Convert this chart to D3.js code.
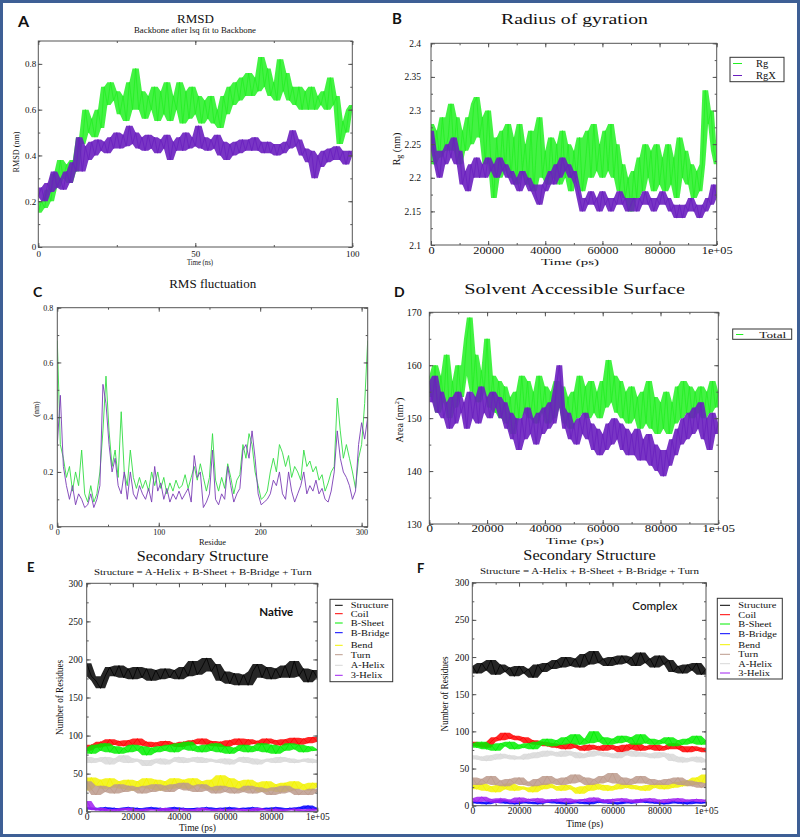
<!DOCTYPE html>
<html><head><meta charset="utf-8">
<script src="https://cdn.jsdelivr.net/npm/d3@7"></script>
<style>body{margin:0;background:#fff} svg{display:block}</style>
</head><body>
<script>
// ================= DATA =================
// Panel A – RMSD (ns)
const rmsdTime = d3.range(0, 101, 1);
const rmsdGreen = [0.15,0.20,0.17,0.25,0.20,0.32,0.26,0.38,0.30,0.36,
 0.28,0.38,0.33,0.48,0.45,0.60,0.50,0.56,0.48,0.60,
 0.52,0.70,0.62,0.72,0.64,0.68,0.58,0.66,0.55,0.72,
 0.60,0.78,0.60,0.68,0.56,0.66,0.60,0.70,0.55,0.68,
 0.58,0.72,0.55,0.66,0.60,0.72,0.54,0.68,0.56,0.70,
 0.58,0.66,0.54,0.64,0.56,0.66,0.54,0.60,0.52,0.66,
 0.58,0.70,0.62,0.72,0.64,0.74,0.66,0.76,0.66,0.74,
 0.68,0.83,0.70,0.78,0.66,0.72,0.64,0.82,0.68,0.76,
 0.64,0.70,0.62,0.70,0.60,0.68,0.60,0.70,0.60,0.66,
 0.62,0.68,0.60,0.74,0.62,0.66,0.45,0.55,0.50,0.60,0.62];
const rmsdPurple = [0.22,0.26,0.20,0.28,0.24,0.33,0.26,0.30,0.25,0.33,
 0.28,0.37,0.33,0.48,0.33,0.44,0.38,0.46,0.40,0.47,
 0.42,0.46,0.41,0.48,0.43,0.50,0.43,0.49,0.44,0.53,
 0.45,0.50,0.43,0.48,0.42,0.49,0.43,0.48,0.41,0.47,
 0.43,0.49,0.38,0.46,0.42,0.48,0.42,0.50,0.43,0.48,
 0.44,0.53,0.43,0.48,0.42,0.47,0.43,0.49,0.40,0.46,
 0.38,0.45,0.40,0.46,0.41,0.47,0.42,0.47,0.42,0.48,
 0.42,0.46,0.41,0.46,0.41,0.45,0.40,0.45,0.41,0.46,
 0.43,0.51,0.44,0.47,0.40,0.43,0.37,0.42,0.30,0.40,
 0.35,0.42,0.37,0.43,0.38,0.44,0.38,0.42,0.36,0.42,0.40];
const rmsdXTicks = [0, 50, 100];
const rmsdYTicks = [0, 0.2, 0.4, 0.6, 0.8];

// Panel B – Radius of gyration (ps)
const psTime = d3.range(0, 100001, 1000);
const rgGreen = [2.28,2.22,2.27,2.23,2.29,2.24,2.26,2.31,2.24,2.29,
 2.22,2.27,2.24,2.29,2.25,2.31,2.32,2.26,2.29,2.22,
 2.30,2.22,2.17,2.26,2.20,2.27,2.21,2.28,2.20,2.26,
 2.19,2.28,2.21,2.25,2.19,2.27,2.18,2.25,2.29,2.20,
 2.24,2.19,2.26,2.20,2.25,2.19,2.27,2.20,2.25,2.18,
 2.24,2.20,2.26,2.18,2.22,2.27,2.20,2.28,2.21,2.25,
 2.20,2.27,2.21,2.28,2.20,2.25,2.18,2.22,2.17,2.20,
 2.15,2.21,2.17,2.23,2.18,2.25,2.20,2.24,2.18,2.25,
 2.19,2.23,2.18,2.25,2.19,2.23,2.17,2.26,2.20,2.24,
 2.19,2.22,2.17,2.21,2.18,2.22,2.33,2.28,2.30,2.24,2.22];
const rgPurple = [2.27,2.24,2.22,2.20,2.24,2.22,2.25,2.23,2.26,2.22,
 2.24,2.19,2.21,2.18,2.22,2.20,2.23,2.20,2.22,2.20,
 2.23,2.21,2.22,2.20,2.23,2.21,2.22,2.20,2.21,2.19,
 2.20,2.18,2.21,2.19,2.20,2.18,2.19,2.17,2.16,2.19,
 2.18,2.20,2.21,2.19,2.22,2.20,2.23,2.21,2.22,2.20,
 2.21,2.19,2.17,2.15,2.17,2.16,2.18,2.16,2.17,2.15,
 2.18,2.16,2.17,2.15,2.17,2.16,2.18,2.16,2.17,2.15,
 2.16,2.17,2.15,2.17,2.16,2.18,2.16,2.17,2.15,2.17,
 2.16,2.18,2.16,2.17,2.15,2.16,2.14,2.16,2.14,2.16,
 2.15,2.17,2.15,2.16,2.14,2.16,2.15,2.17,2.16,2.19,2.17];
const rgYTicks = [2.1, 2.15, 2.2, 2.25, 2.3, 2.35, 2.4];
const psXTicks = [0, 20000, 40000, 60000, 80000, 100000];

// Panel C – RMS fluctuation (residue)
const residues = d3.range(0, 307, 3);
const rmsfGreen = [0.68,0.30,0.25,0.18,0.22,0.13,0.20,0.15,0.28,0.12,
 0.09,0.15,0.09,0.12,0.20,0.35,0.55,0.35,0.22,0.28,
 0.18,0.42,0.20,0.15,0.28,0.18,0.14,0.18,0.14,0.17,
 0.13,0.20,0.15,0.20,0.14,0.18,0.12,0.16,0.13,0.17,
 0.14,0.15,0.19,0.14,0.18,0.22,0.17,0.23,0.18,0.13,
 0.18,0.34,0.17,0.13,0.18,0.14,0.23,0.18,0.12,0.17,
 0.19,0.30,0.25,0.34,0.30,0.20,0.15,0.10,0.11,0.13,
 0.20,0.25,0.20,0.30,0.27,0.22,0.26,0.18,0.22,0.20,
 0.17,0.28,0.22,0.24,0.20,0.22,0.17,0.19,0.13,0.16,
 0.20,0.22,0.47,0.35,0.25,0.30,0.25,0.20,0.14,0.25,
 0.30,0.45,0.68];
const rmsfPurple = [0.30,0.48,0.22,0.15,0.10,0.15,0.08,0.12,0.10,0.07,
 0.08,0.12,0.07,0.10,0.15,0.52,0.45,0.30,0.20,0.25,
 0.15,0.12,0.20,0.10,0.20,0.12,0.10,0.15,0.12,0.10,
 0.14,0.09,0.22,0.13,0.16,0.10,0.14,0.09,0.12,0.10,
 0.13,0.10,0.12,0.14,0.09,0.26,0.18,0.20,0.07,0.09,
 0.12,0.28,0.10,0.08,0.12,0.10,0.22,0.15,0.09,0.12,
 0.14,0.28,0.30,0.25,0.35,0.25,0.12,0.08,0.09,0.10,
 0.12,0.17,0.15,0.20,0.12,0.10,0.20,0.13,0.09,0.12,
 0.15,0.20,0.12,0.15,0.13,0.17,0.12,0.14,0.10,0.09,
 0.13,0.20,0.35,0.25,0.20,0.18,0.15,0.10,0.13,0.30,
 0.38,0.32,0.40];
const rmsfXTicks = [0, 100, 200, 300];
const rmsfYTicks = [0, 0.2, 0.4, 0.6, 0.8];

// Panel D – Solvent accessible surface (ps)
const sasGreen = [158,154,160,151,158,153,162,150,157,152,
 160,154,158,165,169,155,162,153,159,155,
 165,152,158,151,157,150,156,149,154,147,
 155,150,158,151,157,150,155,149,158,151,
 156,149,155,150,157,152,156,149,154,148,
 155,150,158,151,156,150,157,151,155,150,
 157,152,161,153,158,151,157,150,155,149,
 156,150,154,148,155,149,157,148,154,147,
 153,148,155,147,153,149,156,150,157,151,
 156,150,155,151,156,150,155,151,157,152,155];
const sasPurple = [157,153,158,151,155,150,153,148,154,149,
 155,151,153,148,155,150,154,149,156,151,
 154,150,155,152,154,150,153,148,151,146,
 150,144,150,146,152,147,150,145,151,147,
 152,148,153,149,156,160,152,148,151,146,
 149,145,150,147,151,146,149,144,148,143,
 147,144,149,145,150,146,149,144,148,143,
 147,143,148,142,146,142,147,141,145,140,
 144,139,144,141,146,143,148,145,150,146,
 151,147,152,148,153,146,150,144,151,147,149];
const sasYTicks = [130, 140, 150, 160, 170];

// Panels E/F – Secondary structure (ps)
const ssTime = d3.range(0, 100001, 2000);
const ssNames = ["Structure","Coil","B-Sheet","B-Bridge","Bend","Turn","A-Helix","3-Helix"];
const ssColors = ["#000000","#ff0000","#00ee00","#0000ff","#f2f200","#bc9a8c","#d8d8d8","#a020f0"];
const nativeSS = [
 [195,178,172,162,178,190,178,192,176,188,174,190,176,188,172,186,174,188,176,186,174,190,178,198,180,190,202,184,194,172,184,168,182,166,180,166,184,194,176,190,174,188,176,192,176,198,178,188,170,186,176],
 [80,88,84,92,86,95,88,93,86,94,88,96,87,92,85,91,86,93,88,90,85,92,87,94,89,96,88,93,86,92,85,94,88,96,87,95,89,93,88,96,90,94,87,95,89,97,88,96,90,98,92],
 [84,76,88,80,90,78,86,76,84,78,88,80,86,74,84,78,86,80,88,78,90,82,92,80,86,78,88,80,90,78,86,76,84,80,88,78,86,80,90,78,88,76,86,80,90,82,88,78,86,80,82],
 [6,3,5,2,6,3,5,2,4,6,3,5,2,4,6,3,5,2,4,6,3,5,2,4,5,3,6,2,4,5,3,6,2,4,5,3,6,2,4,5,3,6,4,2,5,3,6,4,8,3,5],
 [28,45,34,42,30,44,32,40,30,42,28,40,32,44,30,42,28,40,30,44,32,42,30,44,34,40,30,42,28,48,32,44,30,40,28,42,30,38,26,40,28,36,26,38,28,40,30,36,28,38,32],
 [40,30,22,34,26,32,24,36,26,34,28,32,24,34,26,36,28,34,26,36,30,38,28,34,26,36,28,32,24,34,26,32,24,30,26,34,24,32,26,30,22,32,24,34,26,30,22,28,22,30,26],
 [72,64,70,66,72,62,70,66,74,64,70,66,68,60,68,64,70,62,68,66,72,64,70,66,72,64,70,66,68,64,70,62,68,66,72,64,70,62,68,66,70,64,72,66,70,64,68,66,70,64,68],
 [14,4,2,5,1,3,0,4,2,5,1,3,0,4,2,3,1,5,0,3,2,4,1,3,0,5,2,3,1,4,0,3,2,4,1,3,0,5,2,3,1,4,0,3,2,4,1,3,0,4,2]
];
const complexSS = [
 [188,178,192,182,196,176,190,180,186,174,188,178,184,172,190,180,192,184,196,186,200,188,198,186,204,190,208,192,198,188,200,190,202,192,200,188,206,192,198,186,202,190,196,180,188,178,190,182,192,176,184],
 [86,80,84,78,86,92,88,98,90,94,88,92,84,88,82,86,80,84,78,82,76,84,78,80,74,82,76,80,74,82,76,80,72,82,76,84,74,80,76,82,74,80,76,84,76,80,72,80,74,78,72],
 [84,78,86,76,82,74,84,80,86,76,82,78,84,76,86,82,90,80,88,82,92,84,96,82,90,84,100,86,92,82,90,84,94,86,92,82,96,84,90,82,88,84,92,80,88,82,90,84,94,82,88],
 [6,3,5,2,6,4,8,3,6,2,4,6,3,5,2,6,4,8,3,5,2,4,6,3,5,2,6,4,8,3,5,2,4,6,3,5,8,4,6,3,5,2,4,6,3,5,2,6,4,3,5],
 [28,22,30,20,26,18,28,22,30,20,26,22,24,18,28,22,30,24,26,20,28,22,24,16,26,20,30,22,28,20,26,22,30,24,28,22,26,20,28,24,30,22,28,24,32,26,34,28,38,30,42],
 [38,28,36,30,40,28,34,26,36,30,38,28,32,26,36,28,40,30,36,28,38,30,42,32,38,28,36,30,40,32,44,30,38,28,36,30,40,30,36,28,34,28,36,30,38,28,34,26,32,24,30],
 [68,62,66,60,68,62,70,64,68,62,66,62,70,64,72,66,74,68,72,66,74,68,72,64,70,66,74,68,72,66,70,64,72,68,74,66,72,66,70,64,72,66,70,60,66,58,64,60,66,58,62],
 [10,5,12,6,9,4,10,6,8,4,11,5,9,6,10,4,8,6,9,5,10,4,8,6,9,5,11,6,8,4,9,6,10,5,8,4,9,6,10,5,8,4,9,6,10,5,8,6,9,5,8]
];
const ssYTicks = [0, 50, 100, 150, 200, 250, 300];

// ================= DRAWING =================
const SERIF = "'Liberation Serif','DejaVu Serif',serif";
const SANS = "Lato,'Open Sans','Liberation Sans',sans-serif";
const GREEN = "#22f022", PURPLE = "#6a1fbf";

const svg = d3.select("body").append("svg").attr("width", 800).attr("height", 837);
svg.append("rect").attr("width", 800).attr("height", 837).attr("fill", "#fff");
svg.append("rect").attr("x", 1.5).attr("y", 1.5).attr("width", 797).attr("height", 834)
  .attr("fill", "none").attr("stroke", "#3e5f95").attr("stroke-width", 3);

function txt(str, x, y, o = {}) {
  const t = svg.append("text").attr("x", x).attr("y", y).text(str)
    .attr("font-family", o.ff || SERIF).attr("font-size", o.fs || 10)
    .attr("text-anchor", o.anchor || "middle").attr("fill", o.fill || "#111");
  if (o.fw) t.attr("font-weight", o.fw);
  if (o.len) t.attr("textLength", o.len).attr("lengthAdjust", "spacingAndGlyphs");
  if (o.rot) t.attr("transform", `rotate(-90,${x},${y})`);
  return t;
}

let clipN = 0;
function panel(c) {
  const g = svg.append("g");
  const x = d3.scaleLinear().domain(c.xd).range([c.l, c.r]);
  const y = d3.scaleLinear().domain(c.yd).range([c.b, c.t]);
  const id = "clip" + (clipN++);
  g.append("clipPath").attr("id", id).append("rect")
    .attr("x", c.l).attr("y", c.t).attr("width", c.r - c.l).attr("height", c.b - c.t);
  const pg = g.append("g").attr("clip-path", `url(#${id})`);
  c.series.forEach(s => {
    if (s.band) {
      // shaded trace envelope: local min/max of neighbouring samples
      const win = i => s.v.slice(Math.max(0, i - 1), i + 2);
      pg.append("path").datum(s.v).attr("fill", s.color).attr("fill-opacity", s.band)
        .attr("d", d3.area().x((d, i) => x(s.x[i]))
          .y0((d, i) => y(d3.min(win(i)))).y1((d, i) => y(d3.max(win(i)))));
    }
    pg.append("path").datum(s.v).attr("fill", "none").attr("stroke", s.line || s.color)
      .attr("stroke-width", s.w || 1).attr("stroke-linejoin", "round")
      .attr("d", d3.line().x((d, i) => x(s.x[i])).y(d => y(d)));
  });
  g.append("rect").attr("x", c.l).attr("y", c.t).attr("width", c.r - c.l).attr("height", c.b - c.t)
    .attr("fill", "none").attr("stroke", "#555").attr("stroke-width", 1);
  const ax = (gen, tr, vals, size, fmt, pad) => {
    const a = g.append("g").attr("transform", tr)
      .call(gen.tickValues(vals).tickSizeInner(-size).tickSizeOuter(0).tickPadding(pad || 3).tickFormat(fmt || (() => "")));
    a.select(".domain").remove();
    a.selectAll("line").attr("stroke", "#555");
    a.selectAll("text").attr("font-family", SERIF).attr("font-size", c.fs).attr("fill", "#111");
    return a;
  };
  const xm = d3.range(c.xd[0], c.xd[1] + 1e-9, c.xms), ym = d3.range(c.yd[0], c.yd[1] + 1e-9, c.yms);
  const bx = ax(d3.axisBottom(x), `translate(0,${c.b})`, c.xt, 4, c.xf || (d => d), c.xpad);
  ax(d3.axisBottom(x), `translate(0,${c.b})`, xm, 2);
  ax(d3.axisTop(x), `translate(0,${c.t})`, c.xt, 4);
  ax(d3.axisTop(x), `translate(0,${c.t})`, xm, 2);
  ax(d3.axisLeft(y), `translate(${c.l},0)`, c.yt, 4, d => d, c.ypad);
  ax(d3.axisLeft(y), `translate(${c.l},0)`, ym, 2);
  ax(d3.axisRight(y), `translate(${c.r},0)`, c.yt, 4);
  ax(d3.axisRight(y), `translate(${c.r},0)`, ym, 2);
  if (c.xsx) bx.selectAll("text").attr("transform", `scale(${c.xsx},1)`);
  return { g, x, y };
}

function legend(box, items, o) {
  svg.append("rect").attr("x", box[0]).attr("y", box[1]).attr("width", box[2] - box[0]).attr("height", box[3] - box[1])
    .attr("fill", "#fff").attr("stroke", "#333").attr("stroke-width", 1);
  items.forEach((it, i) => {
    const by = o.base[i];
    svg.append("line").attr("x1", o.lx[0]).attr("x2", o.lx[1]).attr("y1", by - 3).attr("y2", by - 3)
      .attr("stroke", it.color).attr("stroke-width", 1);
    const t = txt(it.name, o.tx, by, { anchor: "start", fs: o.fs });
    if (o.len) t.attr("textLength", o.len[i]).attr("lengthAdjust", "spacingAndGlyphs");
    else if (o.sx) t.attr("textLength", t.node().getComputedTextLength() * o.sx).attr("lengthAdjust", "spacingAndGlyphs");
  });
}

const psFmt = d => d === 100000 ? "1e+05" : String(d);

// ---- Panel A
panel({ l: 38.3, t: 41, r: 352.3, b: 247, xd: [0, 100], yd: [0, 0.9], xt: rmsdXTicks, xms: 25,
  yt: rmsdYTicks, yms: 0.1, fs: 9, xpad: 3.5, ypad: 2,
  series: [{ x: rmsdTime, v: rmsdGreen, color: GREEN, band: 0.85, w: 0.8 },
           { x: rmsdTime, v: rmsdPurple, color: PURPLE, band: 0.9, w: 0.8 }] });
txt("A", 18, 27, { ff: SANS, fs: 16, fw: 700, anchor: "start" });
txt("RMSD", 195.5, 22.7, { fs: 13 });
txt("Backbone after lsq fit to Backbone", 195, 33.3, { fs: 8, len: 122 });
txt("Time (ns)", 200, 265, { fs: 8, len: 26 });
txt("RMSD (nm)", 18.5, 152, { fs: 8, len: 41, rot: true });

// ---- Panel B
panel({ l: 431, t: 43.3, r: 716.7, b: 245, xd: [0, 100000], yd: [2.1, 2.4], xt: psXTicks, xms: 10000, xf: psFmt,
  yt: rgYTicks, yms: 0.025, fs: 9.5, xpad: 2, ypad: 10, xsx: 1.3,
  series: [{ x: psTime, v: rgGreen, color: GREEN, band: 0.85, w: 0.8 },
           { x: psTime, v: rgPurple, color: PURPLE, band: 0.9, w: 0.8 }] });
txt("B", 392, 24, { ff: SANS, fs: 15, fw: 700, anchor: "start" });
txt("Radius of gyration", 574.5, 24, { fs: 14, len: 147 });
txt("Time (ps)", 570, 265, { fs: 9, len: 58 });
{
  const t = svg.append("text").attr("transform", "translate(400,149) rotate(-90)")
    .attr("text-anchor", "middle").attr("font-family", SERIF).attr("font-size", 10).attr("fill", "#111");
  t.append("tspan").text("R");
  t.append("tspan").text("g").attr("dy", 2).attr("font-size", 8);
  t.append("tspan").text(" (nm)").attr("dy", -2);
}
legend([730, 57.3, 784, 81.7], [{ name: "Rg", color: GREEN }, { name: "RgX", color: PURPLE }],
  { base: [66.5, 78.5], lx: [733, 742], tx: 756, fs: 10.5 });

// ---- Panel C
panel({ l: 57.3, t: 307.7, r: 367.7, b: 526.7, xd: [0, 306], yd: [0, 0.8], xt: rmsfXTicks, xms: 50,
  yt: rmsfYTicks, yms: 0.1, fs: 8, xpad: 2.6, ypad: 4,
  series: [{ x: residues, v: rmsfGreen, color: "#33dd44", w: 0.9 }, { x: residues, v: rmsfPurple, color: "#7a3db5", w: 0.9 }] });
txt("C", 33, 297, { ff: SANS, fs: 14, fw: 700, anchor: "start" });
txt("RMS fluctuation", 212.7, 288.3, { fs: 13, len: 87 });
txt("Residue", 212.5, 545, { fs: 8, len: 27 });
txt("(nm)", 38.5, 409, { fs: 8, rot: true });

// ---- Panel D
panel({ l: 429.3, t: 312.3, r: 718.3, b: 524, xd: [0, 100000], yd: [130, 170], xt: psXTicks, xms: 10000, xf: psFmt,
  yt: sasYTicks, yms: 5, fs: 10, xpad: 1, ypad: 7.6, xsx: 1.3,
  series: [{ x: psTime, v: sasGreen, color: GREEN, band: 0.85, w: 0.8 },
           { x: psTime, v: sasPurple, color: PURPLE, band: 0.9, w: 0.8 }] });
txt("D", 394, 297, { ff: SANS, fs: 14, fw: 700, anchor: "start" });
txt("Solvent Accessible Surface", 574.7, 294.3, { fs: 14, len: 220.7 });
txt("Time (ps)", 575, 544, { fs: 9, len: 58 });
{
  const t = svg.append("text").attr("transform", "translate(403,420) rotate(-90)")
    .attr("text-anchor", "middle").attr("font-family", SERIF).attr("font-size", 10).attr("fill", "#111");
  t.append("tspan").text("Area (nm");
  t.append("tspan").text("2").attr("dy", -4).attr("font-size", 7);
  t.append("tspan").text(")").attr("dy", 4);
}
legend([732.7, 329, 791.7, 339.3], [{ name: "Total", color: GREEN }],
  { base: [337.5], lx: [736, 743.3], tx: 759.3, fs: 9, len: [27] });

// ---- Panels E and F
function ssPanel(c, data) {
  panel({ l: c.l, t: c.t, r: c.r, b: c.b, xd: [0, 100000], yd: [0, 300], xt: psXTicks, xms: 10000, xf: psFmt,
    yt: ssYTicks, yms: 25, fs: 9.5, xpad: c.xpad, ypad: c.ypad,
    series: data.map((v, i) => ({ x: ssTime, v, color: ssColors[i], band: 0.85, w: 0.8 })) });
}
ssPanel({ l: 86.7, t: 583.3, r: 317.3, b: 811.7, xpad: 2, ypad: 4 }, nativeSS);
txt("E", 27, 572, { ff: SANS, fs: 13, fw: 700, anchor: "start" });
txt("Secondary Structure", 202.5, 561, { fs: 14, len: 131.7 });
txt("Structure = A-Helix + B-Sheet + B-Bridge + Turn", 202.8, 575, { fs: 9, len: 217.7 });
txt("Native", 276.3, 616, { ff: SANS, fs: 11, fw: 700, len: 34 });
txt("Time (ps)", 197.5, 831, { fs: 9.5 });
txt("Number of Residues", 62.5, 697.5, { fs: 10, len: 75, rot: true });
legend([330, 599.3, 392.7, 681.7], ssNames.map((n, i) => ({ name: n, color: ssColors[i] })),
  { base: [608.3, 616.7, 626, 635.7, 648.3, 657.7, 668.3, 678.3], lx: [335, 342.7], tx: 350.7, fs: 8.5, sx: 1.22 });

ssPanel({ l: 472.3, t: 582.7, r: 706, b: 805.7, xpad: 2, ypad: 3 }, complexSS);
txt("F", 417, 573, { ff: SANS, fs: 13, fw: 700, anchor: "start" });
txt("Secondary Structure", 589.5, 560, { fs: 14, len: 132.3 });
txt("Structure = A-Helix + B-Sheet + B-Bridge + Turn", 589.5, 574.3, { fs: 9, len: 219 });
txt("Complex", 654.8, 610, { ff: SANS, fs: 12, fw: 500, len: 45 });
txt("Time (ps)", 584.7, 827, { fs: 9.5 });
txt("Number of Residues", 447.5, 694, { fs: 10, len: 75, rot: true });
legend([717.3, 598.3, 782.3, 679], ssNames.map((n, i) => ({ name: n, color: ssColors[i] })),
  { base: [608.3, 617.7, 627, 636.7, 647.7, 657.3, 666.7, 676], lx: [720, 730], tx: 738.3, fs: 8.5, sx: 1.22 });
</script>
</body></html>
